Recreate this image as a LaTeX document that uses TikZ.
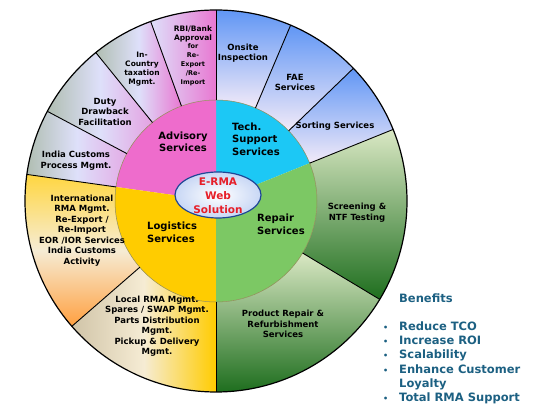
\documentclass[tikz,border=0pt]{standalone}
\usepackage{amsmath,amssymb}
\usepackage{fontspec}
\setmainfont{DejaVu Sans}
\usetikzlibrary{positioning}

\definecolor{pinkS}{RGB}{238,108,204}
\definecolor{cyanS}{RGB}{28,200,245}
\definecolor{greenS}{RGB}{124,200,100}
\definecolor{goldS}{RGB}{255,204,0}
\definecolor{lavS}{RGB}{222,224,250}
\definecolor{grayS}{RGB}{176,190,178}
\definecolor{rosyS}{RGB}{232,120,210}
\definecolor{blueS}{RGB}{96,150,245}
\definecolor{paleS}{RGB}{242,234,248}
\definecolor{leafS}{RGB}{218,232,196}
\definecolor{darkgS}{RGB}{30,110,30}
\definecolor{creamS}{RGB}{246,236,212}
\definecolor{orangeS}{RGB}{255,160,64}
\definecolor{yellowS}{RGB}{255,214,64}
\definecolor{beigeS}{RGB}{208,196,168}
\definecolor{tealS}{RGB}{28,96,130}
\definecolor{ermaRed}{RGB}{230,30,40}
\definecolor{ermaBlue}{RGB}{30,70,150}
\definecolor{ermaLight}{RGB}{200,215,245}

\begin{document}
\begin{tikzpicture}[x=1pt,y=1pt,
    divider/.style={black, line width=0.9pt},
    ringtxt/.style={font=\fontsize{8.5}{10.5}\selectfont\bfseries, align=center, inner sep=0pt},
    coretxt/.style={font=\fontsize{10}{12.5}\selectfont\bfseries, align=left, inner sep=0pt},
    benefit/.style={font=\fontsize{11.5}{14.2}\selectfont\bfseries, text=tealS, align=left, inner sep=0pt}]
    \useasboundingbox (0,0) rectangle (540,417);

    \begin{scope}[shift={(216,216)}]
        % outer ring: tech support
        \shade[top color=blueS, bottom color=paleS] (67:101) arc (67:90:101) -- (90:191) arc (90:67:191) -- cycle;
        \shade[top color=blueS, bottom color=paleS] (44:101) arc (44:67:101) -- (67:191) arc (67:44:191) -- cycle;
        \shade[top color=blueS, bottom color=paleS] (22:101) arc (22:44:101) -- (44:191) arc (44:22:191) -- cycle;
        % outer ring: advisory
        \shade[left color=lavS, right color=rosyS] (90:101) arc (90:110:101) -- (110:191) arc (110:90:191) -- cycle;
        \shade[left color=grayS, right color=rosyS, middle color=lavS] (110:101) arc (110:129:101) -- (129:191) arc (129:110:191) -- cycle;
        \shade[left color=grayS, right color=rosyS!60!lavS, middle color=lavS] (129:101) arc (129:152:101) -- (152:191) arc (152:129:191) -- cycle;
        \shade[left color=grayS, right color=rosyS!50!lavS, middle color=lavS] (152:101) arc (152:172:101) -- (172:191) arc (172:152:191) -- cycle;
        % outer ring: logistics
        \shade[top color=yellowS, bottom color=orangeS, middle color=creamS] (172:101) arc (172:221:101) -- (221:191) arc (221:172:191) -- cycle;
        \shade[left color=beigeS, right color=goldS, middle color=creamS] (221:101) arc (221:270:101) -- (270:191) arc (270:221:191) -- cycle;
        % outer ring: repair
        \shade[top color=leafS, bottom color=darkgS] (-90:101) arc (-90:-31:101) -- (-31:191) arc (-31:-90:191) -- cycle;
        \shade[top color=leafS, bottom color=darkgS] (-31:101) arc (-31:22:101) -- (22:191) arc (22:-31:191) -- cycle;

        % inner sectors
        \fill[cyanS] (0,0) -- (22:101) arc (22:90:101) -- cycle;
        \fill[pinkS] (0,0) -- (90:101) arc (90:172:101) -- cycle;
        \fill[goldS] (0,0) -- (172:101) arc (172:270:101) -- cycle;
        \fill[greenS] (0,0) -- (-90:101) arc (-90:22:101) -- cycle;
        \draw[gray!60!olive, line width=0.5pt] (0,0) circle (101);

        \foreach \a in {22,44,67,90,110,129,152,172,221,270,329}
            \draw[divider] (\a:101) -- (\a:191);
        \draw[black, line width=1.2pt] (0,0) circle (191);

        \shade[inner color=white, outer color=ermaLight, draw=ermaBlue, line width=1.2pt] (2,6) ellipse [x radius=43, y radius=23];
    \end{scope}

    % centre
    \node[ringtxt, font=\fontsize{10.5}{14}\selectfont\bfseries, text=ermaRed] (erma) at (218,221) {E-RMA\\Web\\Solution};

    % core services
    \node[coretxt, align=center] (advisory) at (183,275) {Advisory\\Services};
    \node[coretxt, anchor=west] (tech) at (232,278) {Tech.\\Support\\Services};
    \node[coretxt, anchor=west] (logistics) at (147,184.5) {Logistics\\Services};
    \node[coretxt, anchor=west] (repair) at (257,192.5) {Repair\\Services};

    % ring items
    \node[ringtxt, font=\fontsize{7.5}{8.8}\selectfont\bfseries] (rbi) at (193,361.5)
        {RBI/Bank\\Approval\\{\fontsize{6.5}{8}\selectfont for}\\{\fontsize{6.5}{8}\selectfont Re-}\\{\fontsize{6.5}{8}\selectfont Export}\\{\fontsize{6.5}{8}\selectfont /Re-}\\{\fontsize{6.5}{8}\selectfont Import}};
    \node[ringtxt, font=\fontsize{7.5}{9}\selectfont\bfseries] (taxation) at (142,347.5) {In-\\Country\\taxation\\Mgmt.};
    \node[ringtxt] (duty) at (105,305.5) {Duty\\Drawback\\Facilitation};
    \node[ringtxt] (customs) at (76,256.5) {India Customs\\Process Mgmt.};
    \node[ringtxt] (onsite) at (243,364) {Onsite\\Inspection};
    \node[ringtxt] (fae) at (295,334.5) {FAE\\Services};
    \node[ringtxt] (sorting) at (335,291) {Sorting Services};
    \node[ringtxt] (screening) at (357,204.5) {Screening \&\\NTF Testing};
    \node[ringtxt] (product) at (283,93) {Product Repair \&\\Refurbishment\\Services};
    \node[ringtxt] (intl) at (82,186.5) {International\\RMA Mgmt.\\Re-Export /\\Re-Import\\EOR /IOR Services\\India Customs\\Activity};
    \node[ringtxt] (local) at (157,91) {Local RMA Mgmt.\\Spares / SWAP Mgmt.\\Parts Distribution\\Mgmt.\\Pickup \& Delivery\\Mgmt.};

    % benefits
    \node[benefit, anchor=west] (benefits) at (399,119) {Benefits};
    \node[benefit, anchor=north west] (list) at (383,95.5)
        {\makebox[16pt][l]{\fontsize{8}{8}\selectfont•}Reduce TCO\\
         \makebox[16pt][l]{\fontsize{8}{8}\selectfont•}Increase ROI\\
         \makebox[16pt][l]{\fontsize{8}{8}\selectfont•}Scalability\\
         \makebox[16pt][l]{\fontsize{8}{8}\selectfont•}Enhance Customer\\
         \hspace*{16pt}Loyalty\\
         \makebox[16pt][l]{\fontsize{8}{8}\selectfont•}Total RMA Support};
\end{tikzpicture}
\end{document}
